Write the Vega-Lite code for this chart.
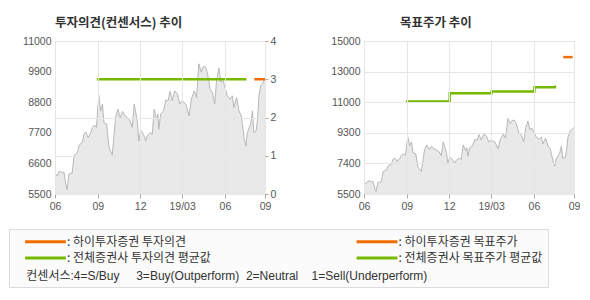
{
  "$schema": "https://vega.github.io/schema/vega-lite/v6.json",
  "autosize": {"type": "pad"},
  "padding": {"left": 8, "top": 16, "right": 0, "bottom": 0},
  "background": "white",
  "bounds": "flush",
  "spacing": 99,
  "config": {
    "font": "Liberation Sans",
    "view": {"stroke": "#b4b4b4", "strokeWidth": 1},
    "axis": {"labelFont": "Liberation Sans", "labelFontSize": 10.5, "labelColor": "#555555", "domain": false, "title": null, "gridColor": "#e6e6e6", "gridWidth": 1, "tickColor": "#aaaaaa", "labelOverlap": false}
  },
  "datasets": {
    "price": [
      {"date": "2018-06-01", "price": 6260}, {"date": "2018-06-06", "price": 6140}, {"date": "2018-06-10", "price": 6320},
      {"date": "2018-06-17", "price": 6260}, {"date": "2018-06-20", "price": 6300}, {"date": "2018-06-24", "price": 5860},
      {"date": "2018-06-27", "price": 5660}, {"date": "2018-07-01", "price": 6220}, {"date": "2018-07-08", "price": 6260},
      {"date": "2018-07-12", "price": 6890}, {"date": "2018-07-19", "price": 6980}, {"date": "2018-07-23", "price": 7260},
      {"date": "2018-07-30", "price": 7350}, {"date": "2018-08-02", "price": 7650}, {"date": "2018-08-06", "price": 7730},
      {"date": "2018-08-11", "price": 7530}, {"date": "2018-08-17", "price": 7710}, {"date": "2018-08-20", "price": 7890},
      {"date": "2018-08-25", "price": 7980}, {"date": "2018-08-29", "price": 7890}, {"date": "2018-09-03", "price": 9060},
      {"date": "2018-09-07", "price": 8490}, {"date": "2018-09-11", "price": 8730}, {"date": "2018-09-14", "price": 8070},
      {"date": "2018-09-20", "price": 8010}, {"date": "2018-09-25", "price": 7160}, {"date": "2018-10-02", "price": 6900},
      {"date": "2018-10-06", "price": 7650}, {"date": "2018-10-09", "price": 8250}, {"date": "2018-10-14", "price": 8550},
      {"date": "2018-10-19", "price": 8250}, {"date": "2018-10-24", "price": 8470}, {"date": "2018-10-29", "price": 8310},
      {"date": "2018-11-03", "price": 8250}, {"date": "2018-11-09", "price": 8130}, {"date": "2018-11-14", "price": 7890},
      {"date": "2018-11-18", "price": 8730}, {"date": "2018-11-21", "price": 8490}, {"date": "2018-11-25", "price": 8070},
      {"date": "2018-11-28", "price": 7410}, {"date": "2018-12-02", "price": 7790}, {"date": "2018-12-08", "price": 7650},
      {"date": "2018-12-13", "price": 7410}, {"date": "2018-12-16", "price": 7590}, {"date": "2018-12-22", "price": 7710},
      {"date": "2018-12-27", "price": 7650}, {"date": "2018-12-31", "price": 8550}, {"date": "2019-01-05", "price": 8190},
      {"date": "2019-01-08", "price": 8370}, {"date": "2019-01-10", "price": 7830}, {"date": "2019-01-14", "price": 8370},
      {"date": "2019-01-20", "price": 8490}, {"date": "2019-01-25", "price": 8880}, {"date": "2019-01-30", "price": 8850},
      {"date": "2019-02-03", "price": 9190}, {"date": "2019-02-08", "price": 8850}, {"date": "2019-02-13", "price": 9210},
      {"date": "2019-02-19", "price": 9090}, {"date": "2019-02-24", "price": 8730}, {"date": "2019-03-01", "price": 8850},
      {"date": "2019-03-09", "price": 8730}, {"date": "2019-03-16", "price": 8310}, {"date": "2019-03-21", "price": 8910},
      {"date": "2019-03-27", "price": 9210}, {"date": "2019-04-01", "price": 8970}, {"date": "2019-04-06", "price": 10180},
      {"date": "2019-04-11", "price": 9880}, {"date": "2019-04-15", "price": 10060}, {"date": "2019-04-19", "price": 10090},
      {"date": "2019-04-24", "price": 9880}, {"date": "2019-04-30", "price": 9280}, {"date": "2019-05-05", "price": 9150},
      {"date": "2019-05-10", "price": 8730}, {"date": "2019-05-14", "price": 9580}, {"date": "2019-05-19", "price": 10030},
      {"date": "2019-05-23", "price": 9520}, {"date": "2019-05-28", "price": 9580}, {"date": "2019-05-31", "price": 9400},
      {"date": "2019-06-06", "price": 9030}, {"date": "2019-06-12", "price": 8910}, {"date": "2019-06-17", "price": 9030},
      {"date": "2019-06-20", "price": 8610}, {"date": "2019-06-26", "price": 8970}, {"date": "2019-07-01", "price": 8490},
      {"date": "2019-07-06", "price": 8310}, {"date": "2019-07-12", "price": 7530}, {"date": "2019-07-16", "price": 7220},
      {"date": "2019-07-19", "price": 7710}, {"date": "2019-07-26", "price": 8010}, {"date": "2019-07-30", "price": 8490},
      {"date": "2019-08-02", "price": 7710}, {"date": "2019-08-07", "price": 7770}, {"date": "2019-08-10", "price": 8190},
      {"date": "2019-08-13", "price": 9030}, {"date": "2019-08-17", "price": 9400}, {"date": "2019-08-20", "price": 9460},
      {"date": "2019-08-24", "price": 9580}, {"date": "2019-08-26", "price": 9640}
    ],
    "opinion": [
      {"series": "전체증권사 투자의견 평균값", "date": "2018-08-30", "value": 3},
      {"series": "전체증권사 투자의견 평균값", "date": "2019-07-17", "value": 3},
      {"series": "하이투자증권 투자의견", "date": "2019-08-03", "value": 3},
      {"series": "하이투자증권 투자의견", "date": "2019-08-26", "value": 3}
    ],
    "target": [
      {"series": "전체증권사 목표주가 평균값", "date": "2018-08-30", "value": 11250},
      {"series": "전체증권사 목표주가 평균값", "date": "2018-12-02", "value": 11750},
      {"series": "전체증권사 목표주가 평균값", "date": "2019-03-02", "value": 11870},
      {"series": "전체증권사 목표주가 평균값", "date": "2019-06-02", "value": 12130},
      {"series": "전체증권사 목표주가 평균값", "date": "2019-07-16", "value": 12240},
      {"series": "하이투자증권 목표주가", "date": "2019-08-03", "value": 14000},
      {"series": "하이투자증권 목표주가", "date": "2019-08-23", "value": 14000}
    ]
  },
  "hconcat": [
    {
      "width": 210,
      "height": 153,
      "title": {"text": "투자의견(컨센서스) 추이", "anchor": "start", "frame": "group", "font": "Noto Sans CJK KR", "fontSize": 12.5, "fontWeight": "bold", "color": "#333333", "offset": -3, "baseline": "alphabetic"},
      "layer": [
        {
          "data": {"name": "price"},
          "mark": {"type": "area", "color": "#dfdfdf", "clip": true, "line": {"color": "#b8b8b8", "strokeWidth": 1}},
          "encoding": {
            "x": {"field": "date", "type": "temporal",
              "scale": {"type": "utc", "domain": [{"year": 2018, "month": 6, "date": 1, "utc": true}, {"year": 2019, "month": 8, "date": 26, "utc": true}]},
              "axis": {"values": [{"year": 2018, "month": 6, "date": 1, "utc": true}, {"year": 2018, "month": 9, "date": 1, "utc": true}, {"year": 2018, "month": 12, "date": 1, "utc": true}, {"year": 2019, "month": 3, "date": 1, "utc": true}, {"year": 2019, "month": 6, "date": 1, "utc": true}, {"year": 2019, "month": 8, "date": 26, "utc": true}],
                "labelExpr": "utcmonth(datum.value)==2 ? '19/03' : (utcmonth(datum.value)==7 ? '09' : utcFormat(datum.value, '%m'))",
                "grid": true, "tickSize": 4, "labelPadding": 3, "labelFlush": false, "labelOverlap": false, "zindex": 1}},
            "y": {"field": "price", "type": "quantitative",
              "scale": {"domain": [5500, 11000], "zero": false, "nice": false},
              "axis": {"orient": "left", "values": [5500, 6600, 7700, 8800, 9900, 11000], "format": "d", "grid": false, "ticks": false, "labelPadding": 4, "labelOverlap": false}}
          }
        },
        {
          "data": {"name": "opinion"},
          "mark": {"type": "line", "strokeWidth": 2.5},
          "encoding": {
            "x": {"field": "date", "type": "temporal"},
            "y": {"field": "value", "type": "quantitative",
              "scale": {"domain": [0, 4], "nice": false},
              "axis": {"orient": "right", "values": [0, 1, 2, 3, 4], "grid": true, "tickSize": 3, "labelPadding": 2, "zindex": 1, "labelOverlap": false,
                "gridOpacity": {"condition": {"test": "datum.value === 3", "value": 0}, "value": 1}}},
            "color": {"field": "series", "type": "nominal",
              "scale": {"domain": ["하이투자증권 투자의견", "전체증권사 투자의견 평균값", "하이투자증권 목표주가", "전체증권사 목표주가 평균값"], "range": ["#f26d00", "#76b900", "#f26d00", "#76b900"]},
              "legend": {
                "orient": "none", "legendX": -46, "legendY": 188, "columns": 2, "columnPadding": 134.5, "rowPadding": 2.5,
                "padding": 5, "fillColor": "#fbfbfb", "strokeColor": "#dddddd",
                "symbolType": "M-3.4,0H3.4", "symbolSize": 144, "symbolStrokeWidth": 3, "symbolOffset": 24, "labelOffset": 14,
                "labelExpr": "': ' + datum.label + (indexof(datum.label, '목표주가') >= 0 ? '\u00a0\u00a0\u00a0\u00a0\u00a0\u00a0\u00a0' : '')",
                "labelFont": "Noto Sans CJK KR", "labelFontSize": 12, "labelColor": "#333333", "labelLimit": 400,
                "title": "\u2800\u00a0컨센서스:4=S/Buy\u00a0\u00a0\u00a0\u00a0\u00a03=Buy(Outperform)\u00a0\u00a02=Neutral\u00a0\u00a0\u00a0\u00a01=Sell(Underperform)",
                "titleOrient": "bottom", "titleAnchor": "start", "titlePadding": 7, "titleFont": "Liberation Sans, Noto Sans CJK KR", "titleFontSize": 12, "titleFontWeight": "normal", "titleColor": "#333333", "titleLimit": 1000
              }}
          }
        }
      ],
      "resolve": {"scale": {"y": "independent"}}
    },
    {
      "width": 210,
      "height": 153,
      "title": {"text": "목표주가 추이", "anchor": "start", "frame": "group", "font": "Noto Sans CJK KR", "fontSize": 12.5, "fontWeight": "bold", "color": "#333333", "offset": -3, "baseline": "alphabetic", "dx": 36},
      "layer": [
        {
          "data": {"name": "price"},
          "mark": {"type": "area", "color": "#dfdfdf", "clip": true, "line": {"color": "#b8b8b8", "strokeWidth": 1}},
          "encoding": {
            "x": {"field": "date", "type": "temporal",
              "scale": {"type": "utc", "domain": [{"year": 2018, "month": 6, "date": 1, "utc": true}, {"year": 2019, "month": 8, "date": 26, "utc": true}]},
              "axis": {"values": [{"year": 2018, "month": 6, "date": 1, "utc": true}, {"year": 2018, "month": 9, "date": 1, "utc": true}, {"year": 2018, "month": 12, "date": 1, "utc": true}, {"year": 2019, "month": 3, "date": 1, "utc": true}, {"year": 2019, "month": 6, "date": 1, "utc": true}, {"year": 2019, "month": 8, "date": 26, "utc": true}],
                "labelExpr": "utcmonth(datum.value)==2 ? '19/03' : (utcmonth(datum.value)==7 ? '09' : utcFormat(datum.value, '%m'))",
                "grid": true, "tickSize": 4, "labelPadding": 3, "labelFlush": false, "labelOverlap": false, "zindex": 1}},
            "y": {"field": "price", "type": "quantitative",
              "scale": {"domain": [5500, 15000], "zero": false, "nice": false},
              "axis": {"orient": "left", "values": [5500, 7400, 9300, 11200, 13100, 15000], "format": "d",
                "labelExpr": "datum.value == 11200 ? '11000' : (datum.value == 13100 ? '13000' : datum.label)",
                "grid": true, "ticks": false, "labelPadding": 4, "labelOverlap": false, "zindex": 1}}
          }
        },
        {
          "data": {"name": "target"},
          "mark": {"type": "line", "strokeWidth": 2.5, "interpolate": "step-after"},
          "encoding": {
            "x": {"field": "date", "type": "temporal"},
            "y": {"field": "value", "type": "quantitative", "scale": {"domain": [5500, 15000], "zero": false, "nice": false},
              "axis": {"orient": "left", "values": [5500, 7400, 9300, 11200, 13100, 15000], "format": "d",
                "labelExpr": "datum.value == 11200 ? '11000' : (datum.value == 13100 ? '13000' : datum.label)",
                "grid": true, "ticks": false, "labelPadding": 4, "labelOverlap": false, "zindex": 1}},
            "color": {"field": "series", "type": "nominal",
              "scale": {"domain": ["하이투자증권 투자의견", "전체증권사 투자의견 평균값", "하이투자증권 목표주가", "전체증권사 목표주가 평균값"], "range": ["#f26d00", "#76b900", "#f26d00", "#76b900"]}}
          }
        }
      ]
    }
  ]
}
